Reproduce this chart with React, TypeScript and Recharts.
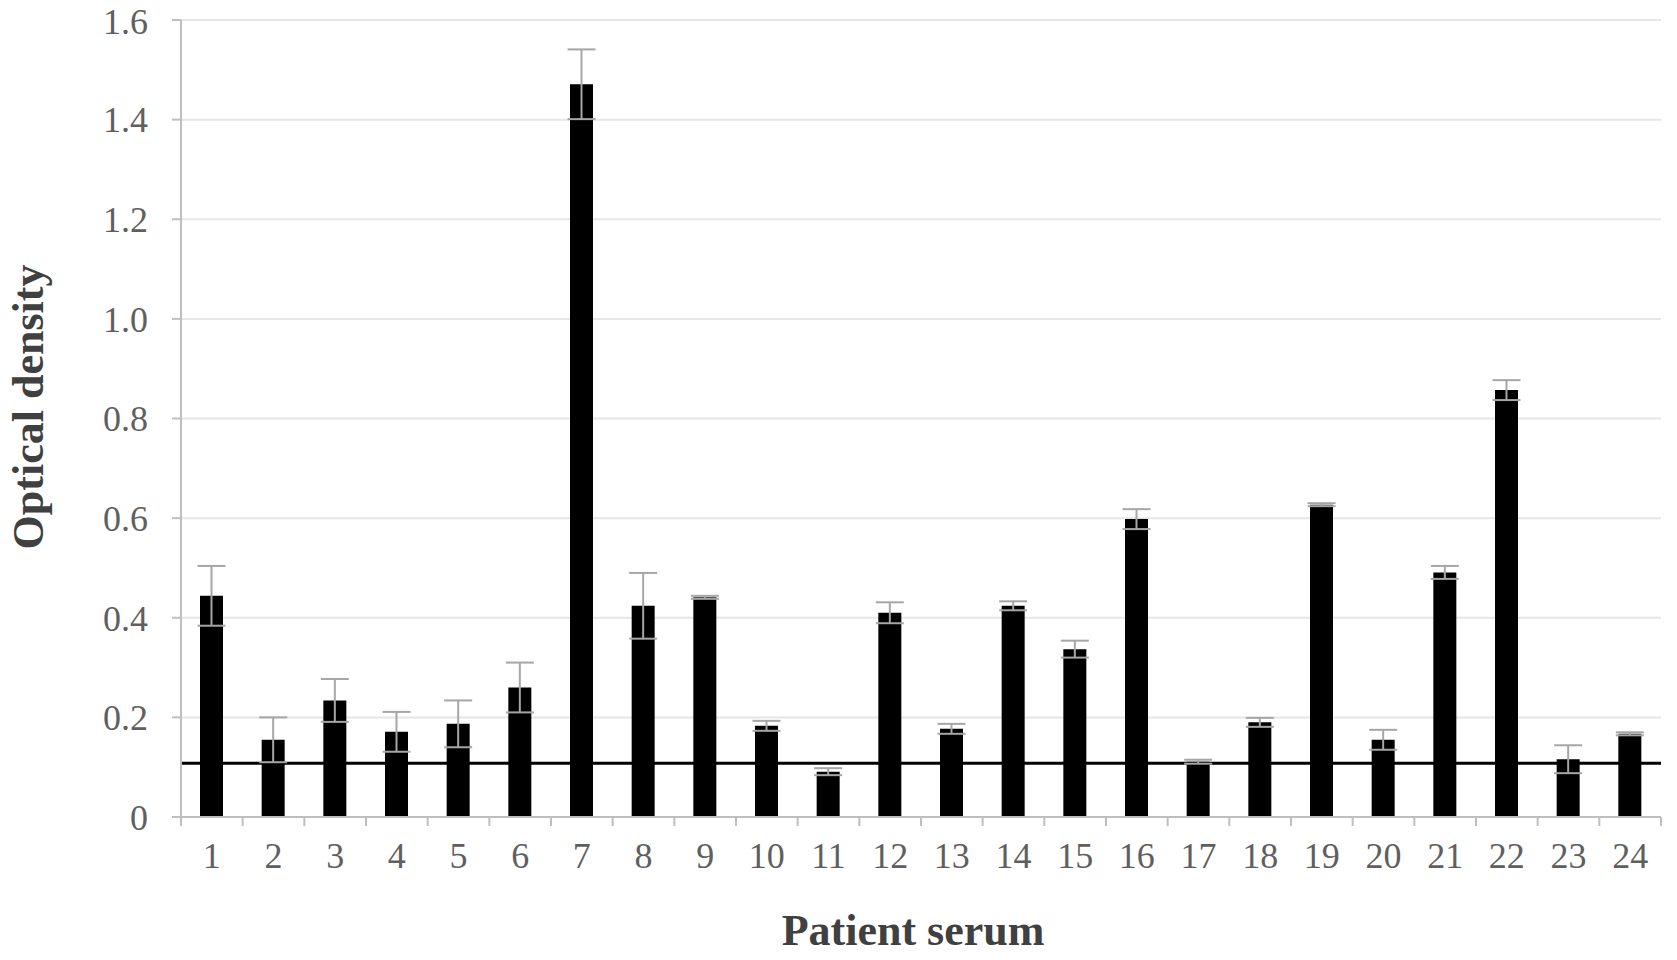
import React from 'react';
import { BarChart, Bar, XAxis, YAxis, CartesianGrid, ErrorBar, ReferenceLine, Label } from 'recharts';

const categories = ['1','2','3','4','5','6','7','8','9','10','11','12','13','14','15','16','17','18','19','20','21','22','23','24'];
const densityValues = [0.444,0.155,0.234,0.171,0.187,0.260,1.471,0.424,0.441,0.183,0.091,0.410,0.177,0.424,0.337,0.598,0.111,0.190,0.627,0.155,0.491,0.857,0.116,0.167];
const densityErrors = [0.06,0.045,0.043,0.04,0.047,0.05,0.07,0.066,0.003,0.01,0.007,0.021,0.01,0.009,0.017,0.02,0.004,0.009,0.003,0.02,0.013,0.02,0.028,0.003];
const thresholdValue = 0.108;
const yTicks = [0,0.2,0.4,0.6,0.8,1.0,1.2,1.4,1.6];

const data = categories.map((c, i) => ({ name: c, value: densityValues[i], err: densityErrors[i] }));

const FONT = '"Liberation Serif", "Times New Roman", serif';
const TICK_COLOR = '#5f5f5f';
const AXIS_COLOR = '#bfbfbf';

const XTick = (props: any) => {
  const { x, y, payload, index, visibleTicksCount } = props;
  const half = payload && typeof payload.offset === 'number' ? payload.offset : 30.8;
  const axisY = y - 25;
  const isLast = index === (visibleTicksCount ?? categories.length) - 1;
  return (
    <g>
      <line x1={x - half} x2={x - half} y1={axisY} y2={axisY + 9} stroke={AXIS_COLOR} strokeWidth={2} />
      {isLast && <line x1={x + half} x2={x + half} y1={axisY} y2={axisY + 9} stroke={AXIS_COLOR} strokeWidth={2} />}
      <text x={x} y={y} dy="0.71em" textAnchor="middle" fill={TICK_COLOR} fontSize={36} fontFamily={FONT}>
        {payload.value}
      </text>
    </g>
  );
};

const yFmt = (v: number) => (v === 0 ? '0' : v.toFixed(1));

export default function App() {
  return (
    <div style={{ position: 'absolute', left: 0, top: 0, width: 1677, height: 960, background: '#fff' }}>
      <BarChart
        width={1677}
        height={960}
        data={data}
        margin={{ top: 20, right: 16, left: 0, bottom: 0 }}
        barSize={23}
      >
        <CartesianGrid vertical={false} stroke="#e6e6e6" strokeWidth={2} />
        <XAxis
          dataKey="name"
          height={143}
          interval={0}
          tickLine={false}
          tickSize={0}
          tickMargin={25}
          axisLine={{ stroke: AXIS_COLOR, strokeWidth: 2 }}
          tick={<XTick />}
        >
          <Label
            content={() => (
              <text x={913} y={945} textAnchor="middle" fontSize={44} fontWeight="bold" fill="#404040" fontFamily={FONT}>
                Patient serum
              </text>
            )}
          />
        </XAxis>
        <YAxis
          width={181}
          domain={[0, 1.6]}
          ticks={yTicks}
          tickFormatter={yFmt}
          tickSize={9}
          tickMargin={24}
          tick={{ fill: TICK_COLOR, fontSize: 36, fontFamily: FONT }}
          tickLine={{ stroke: AXIS_COLOR, strokeWidth: 2 }}
          axisLine={{ stroke: AXIS_COLOR, strokeWidth: 2 }}
        >
          <Label
            content={() => (
              <text
                x={43}
                y={407}
                textAnchor="middle"
                transform="rotate(-90 43 407)"
                fontSize={44}
                fontWeight="bold"
                fill="#404040"
                fontFamily={FONT}
              >
                Optical density
              </text>
            )}
          />
        </YAxis>
        <ReferenceLine y={thresholdValue} stroke="#000" strokeWidth={3} ifOverflow="extendDomain" />
        <Bar dataKey="value" fill="#000" isAnimationActive={false}>
          <ErrorBar dataKey="err" width={14} stroke="#a6a6a6" strokeWidth={2} direction="y" />
        </Bar>
      </BarChart>
    </div>
  );
}
